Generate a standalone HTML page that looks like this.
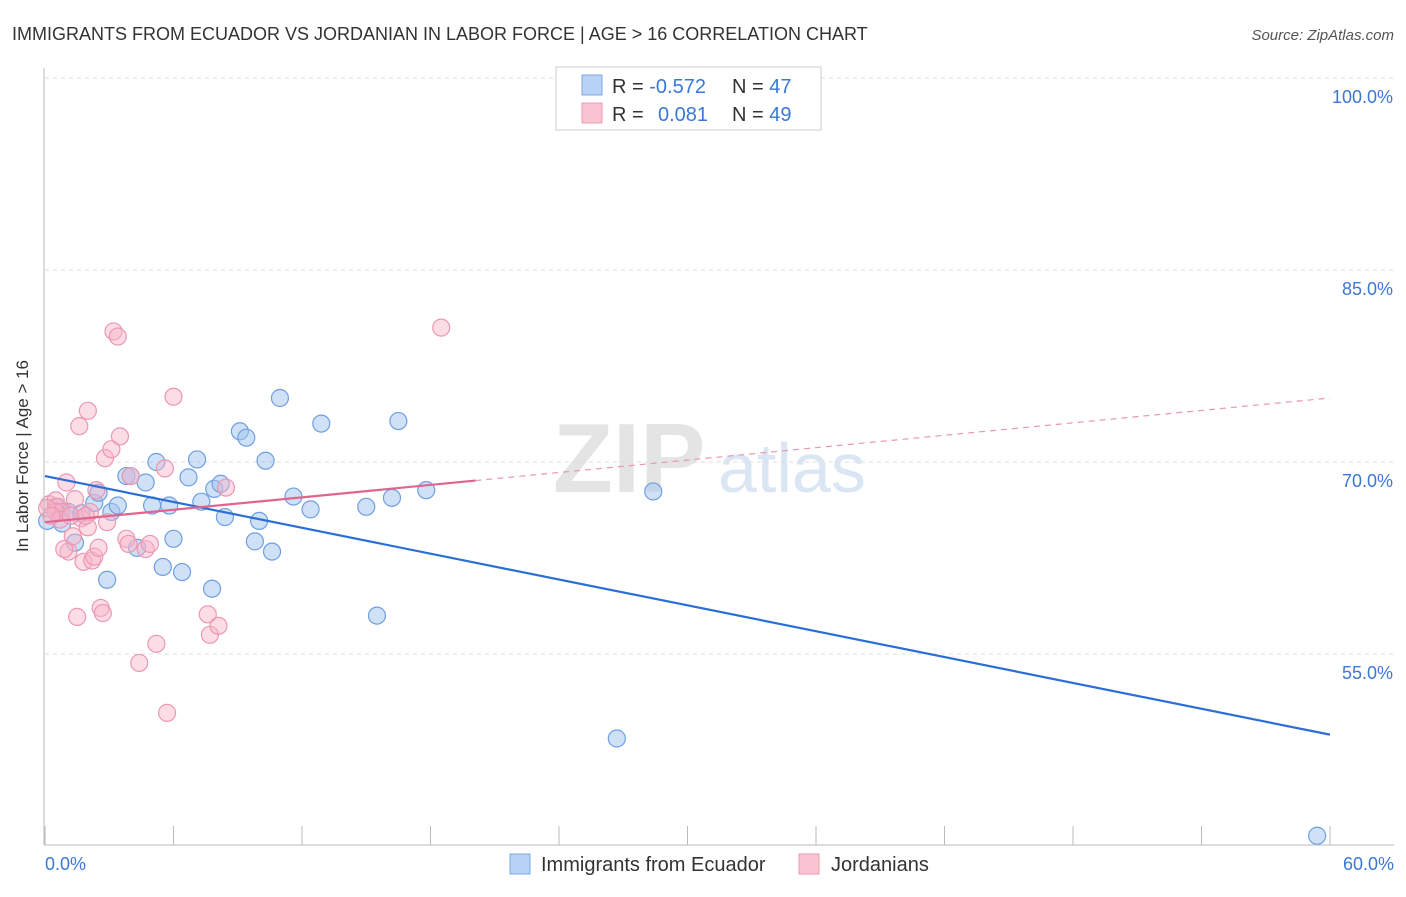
<!DOCTYPE html>
<html><head><meta charset="utf-8"><style>
body{margin:0;background:#fff;font-family:"Liberation Sans",sans-serif}
svg text{font-family:"Liberation Sans",sans-serif}
</style></head><body>
<svg width="1406" height="892" id="c">
<text x="12" y="40" font-size="18" fill="#333">IMMIGRANTS FROM ECUADOR VS JORDANIAN IN LABOR FORCE | AGE &gt; 16 CORRELATION CHART</text>
<text x="1394" y="40" font-size="15" fill="#555" text-anchor="end" font-style="italic">Source: ZipAtlas.com</text>
<text x="28" y="456" font-size="17" fill="#333" text-anchor="middle" transform="rotate(-90 28 456)">In Labor Force | Age &gt; 16</text>
<text x="553" y="492" font-size="98" fill="#e4e4e4" font-family="Liberation Serif" font-weight="bold">ZIP</text>
<text x="718" y="492" font-size="70" fill="#dbe6f4">atlas</text>
<g id="grid"></g><g id="pts"></g><g id="lines"></g>
<line x1="44" y1="68" x2="44" y2="845" stroke="#bbb"/>
<line x1="44" y1="845" x2="1394" y2="845" stroke="#bbb"/>
<text x="45" y="870" font-size="18" fill="#3a78d4">0.0%</text>
<text x="1394" y="870" font-size="18" fill="#3a78d4" text-anchor="end">60.0%</text>
<g>
<rect x="556" y="67" width="265" height="63" fill="#fff" stroke="#ccc"/>
<rect x="582" y="75" width="20" height="20" fill="#b8d3f5" stroke="#7aa7e6"/>
<rect x="582" y="103" width="20" height="20" fill="#f9c5d3" stroke="#ee9ab2"/>
<text x="612" y="93" font-size="20" fill="#333">R = <tspan fill="#3a78d4">-0.572</tspan><tspan x="732">N = </tspan><tspan fill="#3a78d4">47</tspan></text>
<text x="612" y="121" font-size="20" fill="#333">R = <tspan x="658" fill="#3a78d4">0.081</tspan><tspan x="732">N = </tspan><tspan fill="#3a78d4">49</tspan></text>
</g>
<g>
<rect x="510" y="854" width="20" height="20" fill="#b8d3f5" stroke="#7aa7e6"/>
<text x="541" y="871" font-size="20" fill="#333">Immigrants from Ecuador</text>
<rect x="799" y="854" width="20" height="20" fill="#f9c5d3" stroke="#ee9ab2"/>
<text x="831" y="871" font-size="20" fill="#333">Jordanians</text>
</g>
</svg>
<script>
const yTicks=[100,85,70,55];
const xTickVals=[0,6,12,18,24,30,36,42,48,54,60];
const blueX=[0.1,0.7,0.5,1.1,0.8,1.4,1.7,2.3,2.5,2.9,3.1,3.4,3.8,4.0,4.3,4.7,5.0,5.2,5.5,5.8,6.0,6.4,6.7,7.1,7.3,7.8,7.9,8.2,8.4,9.1,9.4,9.8,10.0,10.3,10.6,10.97,11.6,12.4,12.9,15.0,15.5,16.2,16.5,17.8,26.7,28.4,59.4];
const blueY=[65.4,66.1,66.5,66.1,65.2,63.7,66.0,66.8,67.6,60.8,66.1,66.6,68.9,68.9,63.3,68.4,66.6,70.0,61.8,66.6,64.0,61.4,68.8,70.2,66.9,60.1,67.9,68.3,65.7,72.4,71.9,63.8,65.4,70.1,63.0,75.0,67.3,66.3,73.0,66.5,58.0,67.2,73.2,67.8,48.4,67.7,40.8];
const pinkX=[0.2,0.5,0.6,0.8,1.0,1.1,0.9,1.3,1.4,1.5,1.6,1.7,1.8,2.0,2.0,2.1,2.2,2.3,2.4,2.5,2.6,2.7,2.8,2.9,3.1,3.2,3.4,3.5,3.8,3.9,4.0,4.4,4.7,4.9,5.2,5.6,5.7,6.0,7.6,7.7,8.1,8.45,18.5,0.5,0.7,1.2,1.9,0.1,0.3];
const pinkY=[66.7,67.0,66.5,66.1,68.4,63.0,63.2,64.2,67.1,57.9,72.8,65.6,62.2,74.0,64.9,66.1,62.3,62.6,67.8,63.3,58.6,58.2,70.3,65.3,71.0,80.2,79.8,72.0,64.0,63.6,68.9,54.3,63.2,63.6,55.8,69.5,50.4,75.1,58.1,56.5,57.2,68.0,80.5,66.1,65.5,65.8,65.8,66.4,65.8];
const blueTrend=[68.9,48.7];
const pinkTrend=[65.3,75.0];
const pinkSolidEnd=20.1;
const X=v=>45+v/60*1285, Y=v=>78+(100-v)/15*192;
const NS="http://www.w3.org/2000/svg";
function mk(t,a,p){const e=document.createElementNS(NS,t);for(const k in a)e.setAttribute(k,a[k]);p.appendChild(e);return e;}
const g=document.getElementById('grid');
yTicks.forEach((v,i)=>{
 const l=mk('line',{x1:45,x2:1394,y1:Y(v),y2:Y(v),stroke:'#ddd','stroke-dasharray':'4,4'},g);
 
 
 const t=mk('text',{x:1393,y:Y(v)+25,'font-size':18,fill:'#3a78d4','text-anchor':'end'},g);
 t.textContent=v.toFixed(1)+'%';
 
 
});
xTickVals.forEach(v=>{
 const l=mk('line',{x1:X(v),x2:X(v),y1:826,y2:845,stroke:'#bbb'},g);
 
 
});
const p=document.getElementById('pts');
blueX.forEach((v,i)=>{
 const c=mk('circle',{cx:X(v),cy:Y(blueY[i]),r:8.5,fill:'rgba(160,195,240,0.5)',stroke:'#6f9fe0','stroke-width':1.2},p);
 
 
});
pinkX.forEach((v,i)=>{
 const c=mk('circle',{cx:X(v),cy:Y(pinkY[i]),r:8.5,fill:'rgba(248,180,200,0.45)',stroke:'#ec98b2','stroke-width':1.2},p);
 
 
});
const L=document.getElementById('lines');
const bl=mk('line',{x1:X(0),y1:Y(blueTrend[0]),x2:X(60),y2:Y(blueTrend[1]),stroke:'#2b6fd6','stroke-width':2.2},L);


const pe=pinkTrend[0]+(pinkTrend[1]-pinkTrend[0])*pinkSolidEnd/60;
const pd=mk('line',{x1:X(pinkSolidEnd),y1:Y(pe),x2:X(60),y2:Y(pinkTrend[1]),stroke:'#e898b0','stroke-width':1.2,'stroke-dasharray':'6,5'},L);


const ps=mk('line',{x1:X(0),y1:Y(pinkTrend[0]),x2:X(pinkSolidEnd),y2:Y(pe),stroke:'#e0648c','stroke-width':2.2},L);


</script>
</body></html>
